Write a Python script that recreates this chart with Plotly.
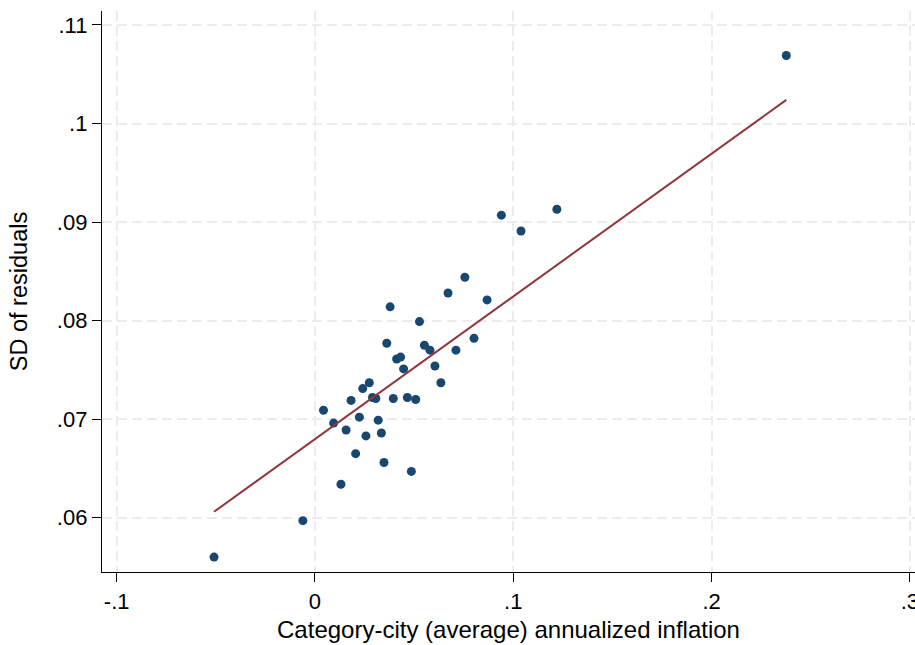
import plotly.graph_objects as go

# Category-city average annualized inflation (x) vs SD of residuals (y)
inflation = [
    -0.0509, -0.0061, 0.0131, 0.0043, 0.0094, 0.0182, 0.0157, 0.0205, 0.0224,
    0.0241, 0.0274, 0.0257, 0.0290, 0.0307, 0.0319, 0.0335, 0.0348, 0.0362,
    0.0379, 0.0395, 0.0412, 0.0432, 0.0447, 0.0466, 0.0486, 0.0508, 0.0527,
    0.0552, 0.0580, 0.0605, 0.0635, 0.0671, 0.0711, 0.0756, 0.0802, 0.0868,
    0.0940, 0.1039, 0.1220, 0.2377,
]
sd_resid = [
    0.0560, 0.0597, 0.0634, 0.0709, 0.0696, 0.0719, 0.0689, 0.0665, 0.0702,
    0.0731, 0.0737, 0.0683, 0.0722, 0.0721, 0.0699, 0.0686, 0.0656, 0.0777,
    0.0814, 0.0721, 0.0761, 0.0763, 0.0751, 0.0722, 0.0647, 0.0720, 0.0799,
    0.0775, 0.0770, 0.0754, 0.0737, 0.0828, 0.0770, 0.0844, 0.0782, 0.0821,
    0.0907, 0.0891, 0.0913, 0.1069,
]

# Linear fit line
fit_x = [-0.0509, 0.2377]
fit_y = [0.0606, 0.1024]

x_ticks = [-0.1, 0, 0.1, 0.2, 0.3]
x_labels = ["-.1", "0", ".1", ".2", ".3"]
y_ticks = [0.06, 0.07, 0.08, 0.09, 0.10, 0.11]
y_labels = [".06", ".07", ".08", ".09", ".1", ".11"]

FONT = "Liberation Sans, Arial, sans-serif"

fig = go.Figure()
fig.add_trace(go.Scatter(
    x=inflation, y=sd_resid, mode="markers",
    marker=dict(size=9, color="#1a476f", line=dict(width=0)),
    showlegend=False, hoverinfo="x+y",
))
fig.add_trace(go.Scatter(
    x=fit_x, y=fit_y, mode="lines",
    line=dict(color="#90353b", width=2),
    showlegend=False, hoverinfo="skip",
))

grid = dict(showgrid=True, gridcolor="#ececec", gridwidth=2, griddash="10px,5px")

fig.update_layout(
    width=915, height=645,
    margin=dict(l=102, r=0, t=11, b=73, pad=0),
    paper_bgcolor="white", plot_bgcolor="white",
    font=dict(family=FONT, color="black", size=22),
    xaxis=dict(
        range=[-0.1074, 0.3026], tickmode="array", tickvals=x_ticks, ticktext=x_labels,
        ticks="outside", ticklen=9, tickwidth=1.3, tickcolor="black",
        showline=True, linecolor="black", linewidth=1.3,
        zeroline=False, ticklabeloverflow="allow", automargin=False,
        tickfont=dict(size=22),
        title=dict(text="Category-city (average) annualized inflation",
                   font=dict(size=24), standoff=8),
        **grid,
    ),
    yaxis=dict(
        range=[0.05449, 0.11142], tickmode="array", tickvals=y_ticks, ticktext=y_labels,
        ticks="outside", ticklen=9, tickwidth=1.3, tickcolor="black",
        showline=True, linecolor="black", linewidth=1.3,
        zeroline=False, automargin=False,
        tickfont=dict(size=22),
        title=dict(text="SD of residuals", font=dict(size=23.5), standoff=22),
        **grid,
    ),
)

fig.write_html("out.html")
